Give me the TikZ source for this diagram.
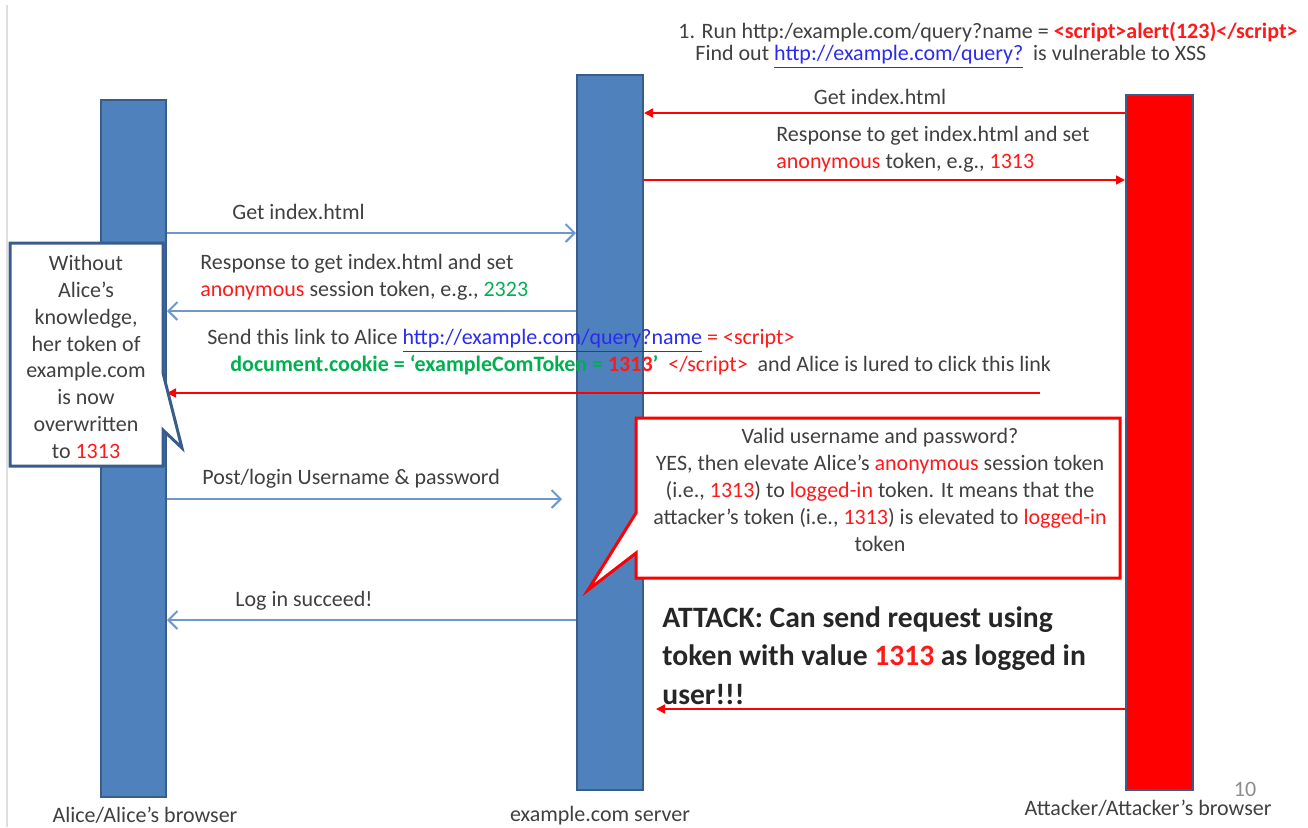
\documentclass[tikz,border=0pt]{standalone}
\usepackage{fontspec}
\setmainfont{Carlito}
\usetikzlibrary{arrows.meta}

\definecolor{barblue}{HTML}{4F81BD}
\definecolor{barborder}{HTML}{385D8A}
\definecolor{arrowblue}{HTML}{6D97CE}
\definecolor{txtgray}{HTML}{404040}
\definecolor{txtred}{HTML}{FF1A1A}
\definecolor{txtgreen}{HTML}{00B050}
\definecolor{linkblue}{HTML}{2B2BF0}
\definecolor{pagegray}{HTML}{8C8C8C}

\newcommand{\redtxt}[1]{\textcolor{txtred}{#1}}
\newcommand{\greentxt}[1]{\textcolor{txtgreen}{#1}}
\newcommand{\linktxt}[1]{\textcolor{linkblue}{\underline{#1}}}

\tikzset{
  lifeline/.style={draw=barborder, line width=1pt, inner sep=0pt},
  msg/.style={font=\fontsize{11}{13.4}\selectfont, text=txtgray, inner sep=0pt},
  attack/.style={font=\fontsize{14.8}{19.25}\selectfont\bfseries, text=black!85, inner sep=0pt},
  bluearr/.style={draw=arrowblue, line width=1pt, -{Straight Barb[length=4.5pt,width=9pt]}},
  redarr/.style={draw=red, line width=0.8pt, -{Triangle[length=4.5pt,width=4.5pt]}},
  bubble/.style={fill=white, line width=1.5pt, line join=miter}
}

\begin{document}
\begin{tikzpicture}[x=0.5pt, y=-0.5pt]
  \useasboundingbox (0,0) rectangle (1308,827);

  % рамка слайда
  \draw[gray!25, line width=0.75pt] (7,5) -- (7,827);

  % лінії життя
  \node[lifeline, fill=barblue, minimum width=32.5pt, minimum height=348.5pt] (alice) at (133.5,448.5) {};
  \node[lifeline, fill=barblue, minimum width=33pt, minimum height=357.5pt] (server) at (610,432.5) {};
  \node[lifeline, fill=red, minimum width=33.5pt, minimum height=347.5pt] (attacker) at (1159.5,442.5) {};

  \node[msg] (alicelbl) at (145,815) {Alice/Alice’s browser};
  \node[msg] (serverlbl) at (600,816) {example.com server};
  \node[msg] (attackerlbl) at (1148,808) {Attacker/Attacker’s browser};
  \node[msg, text=pagegray] (pagenum) at (1245,789) {10};

  % крок атакувальника
  \node[msg, anchor=west] (runline) at (678,32)
    {1. Run http:/example.com/query?name = \redtxt{\bfseries <script>alert(123)</script>}};
  \node[msg, anchor=west] (findline) at (695,57)
    {Find out \linktxt{http://example.com/query?}\ \ is vulnerable to XSS};

  \node[msg] (getatt) at (880,97) {Get index.html};
  \draw[redarr] (attacker.west |- 0,113) -- (server.east |- 0,113);
  \node[msg, anchor=north west, align=left] (respatt) at (776,126)
    {Response to get index.html and set\\\redtxt{anonymous} token, e.g., \redtxt{1313}};
  \draw[redarr] (server.east |- 0,180) -- (attacker.west |- 0,180);

  % Аліса отримує сторінку
  \node[msg, anchor=west] (getalice) at (232,212) {Get index.html};
  \draw[bluearr] (alice.east |- 0,233) -- (server.west |- 0,233);
  \node[msg, anchor=north west, align=left] (respalice) at (200,254)
    {Response to get index.html and set\\\redtxt{anonymous} session token, e.g., \greentxt{2323}};
  \draw[bluearr] (server.west |- 0,311) -- (alice.east |- 0,311);

  % посилання з XSS
  \coordinate (lure) at (1040,393);
  \node[msg, anchor=north west, align=left] (sendlink) at (207,329)
    {Send this link to Alice \linktxt{http://example.com/query?name} \redtxt{= <script>}\\
     \hspace*{11.5pt}\greentxt{\bfseries document.cookie = ‘exampleComToken = \redtxt{1313}’}\ \ \redtxt{</script>}\ \ and Alice is lured to click this link};
  \draw[redarr] (lure) -- (alice.east |- lure);

  % виноска біля Аліси
  \draw[bubble, draw=barborder] (10,243) -- (163,243) -- (163,373) -- (182,448) -- (163,430)
    -- (163,466) -- (10,466) -- cycle;
  \node[msg, align=center] (aliceknow) at (86,357)
    {Without\\Alice’s\\knowledge,\\her token of\\example.com\\is now\\overwritten\\to \redtxt{1313}};

  % вхід
  \node[msg, anchor=west] (postlogin) at (202,479) {Post/login Username \& password};
  \draw[bluearr, shorten >=7pt] (alice.east |- 0,499) -- (server.west |- 0,499);

  % виноска сервера
  \draw[bubble, draw=red] (636,418) -- (1120,418) -- (1120,578) -- (636,578) -- (636,553)
    -- (588,590) -- (636,513) -- cycle;
  \node[msg, align=center] (validnote) at (880,490)
    {Valid username and password?\\YES, then elevate Alice’s \redtxt{anonymous} session token\\
     (i.e., \redtxt{1313}) to \redtxt{logged-in} token. It means that the\\
     attacker’s token (i.e., \redtxt{1313}) is elevated to \redtxt{logged-in}\\token};

  \node[msg, anchor=west] (loginok) at (235,601) {Log in succeed!};
  \draw[bluearr] (server.west |- 0,620) -- (alice.east |- 0,620);

  % атака
  \node[attack, anchor=north west, align=left] (attacknote) at (662,606)
    {ATTACK: Can send request using\\token with value \redtxt{1313} as logged in\\user!!!};
  \draw[redarr, shorten >=6pt] (attacker.west |- 0,709) -- (server.east |- 0,709);
\end{tikzpicture}
\end{document}
